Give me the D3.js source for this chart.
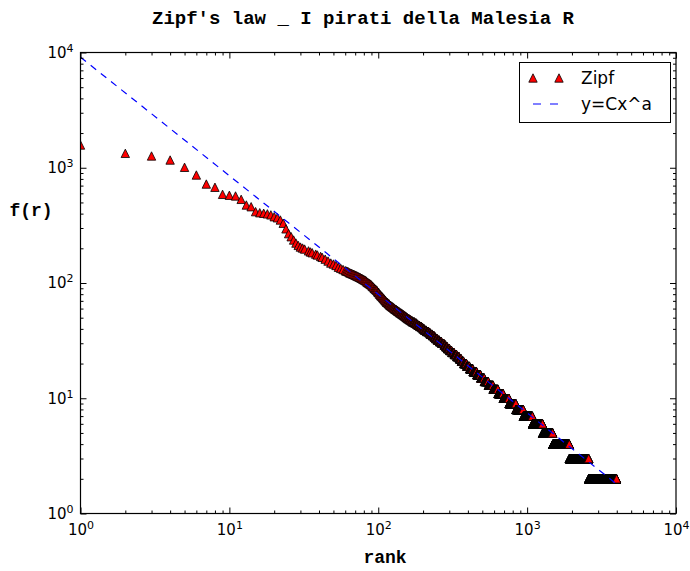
<!DOCTYPE html>
<html lang="en">
<meta charset="utf-8">
<head>
  <script src="https://d3js.org/d3.v7.min.js"></script>
  <style>
    body { margin: 0; background-color: #ffffff; }
  </style>
</head>
<body>
  <!-- div where the graph will take place -->
  <div id="my_dataviz"></div>

  <script>
    // ranks / frequencies (head of the curve)
    var headRanks = [1, 2, 3, 4, 5, 6, 7, 8, 9, 10, 11, 12, 13, 14, 15, 16, 17, 18, 19, 20, 21, 22,
      23, 24, 25, 26, 27, 28, 29, 30, 31, 32, 34, 35, 36, 38, 39, 41, 42, 44, 46, 48, 50, 52, 54, 56, 58,
      60, 61, 62, 63, 64, 65, 66, 67, 68, 69, 70, 71, 72, 73, 74, 75, 76, 77, 78, 79, 80, 81, 82, 83, 84,
      85, 86, 87, 88, 89, 90, 91, 92, 93, 94, 95, 96, 97, 98, 99, 100, 101, 102, 103, 104, 105, 106, 107,
      108, 109, 110, 111, 112, 113, 114, 115, 116, 117, 118, 119, 120, 121, 122, 123, 124, 125, 126, 127];
    var headFreqs = [1575, 1334, 1265, 1167, 1009, 865, 722, 677, 588, 577, 569, 532, 475, 459, 416, 407, 403, 398, 390, 376, 368, 352,
      330, 295, 268, 252, 236, 222, 212, 205, 201, 197, 190, 186, 183, 178, 175, 170, 167, 161, 155, 149, 146, 142, 137, 134, 131,
      128, 127, 126, 125, 123, 122, 121, 120, 119, 118, 117, 116, 115, 114, 113, 112, 111, 110, 109, 108, 107, 106, 105, 104, 102,
      101, 100, 99, 98, 97, 96, 94, 93, 92, 90, 89, 88, 87, 86, 84, 83, 82, 80, 79, 78, 77, 76, 75,
      74, 73, 72, 71, 70, 69, 68, 68, 67, 66, 66, 65, 64, 64, 63, 63, 62, 62, 61, 61];

    // rest of the distribution: every rank from first to last shares the same frequency
    var runFreqs = [60, 59, 58, 57, 56, 55, 54, 53, 52, 51, 50, 49, 48, 47, 46, 45, 44, 43, 42, 41,
      40, 39, 38, 37, 36, 35, 34, 33, 32, 31, 30, 29, 28, 27, 26, 25, 24, 23, 22, 21,
      20, 19, 18, 17, 16, 15, 14, 13, 12, 11, 10, 9, 8, 7, 6, 5, 4, 3, 2];
    var runFirst = [128, 130, 133, 135, 138, 140, 143, 146, 149, 152, 155, 158, 162, 166, 170, 176, 181, 185, 190, 196,
      200, 205, 211, 219, 224, 231, 238, 243, 250, 258, 267, 277, 284, 292, 302, 312, 324, 337, 350, 362,
      375, 393, 411, 433, 459, 488, 516, 549, 591, 637, 691, 756, 841, 943, 1086, 1271, 1486, 1921, 2591];
    var runLast = [129, 132, 134, 137, 139, 142, 145, 148, 151, 154, 157, 161, 165, 169, 175, 180, 184, 189, 195, 199,
      204, 210, 218, 223, 230, 237, 242, 249, 257, 266, 276, 283, 291, 301, 311, 323, 336, 349, 361, 374,
      392, 410, 432, 458, 487, 515, 548, 590, 636, 690, 755, 840, 942, 1085, 1270, 1485, 1920, 2590, 3990];

    // fitted power law y=Cx^a, read at its two ends
    var fitRanks = [1, 3990];
    var fitFreqs = [9100, 1.8];

    var majorTicks = [1, 10, 100, 1000, 10000];

    // set the dimensions and margins of the graph
    var margin = { top: 52.5, right: 14, bottom: 57.5, left: 80.5 },
      width = 690 - margin.left - margin.right,
      height = 571 - margin.top - margin.bottom;

    var root = d3.select("#my_dataviz")
      .append("svg")
      .attr("width", 690)
      .attr("height", 571);

    var svg = root.append("g")
      .attr("transform", "translate(" + margin.left + "," + margin.top + ")");

    var x = d3.scaleLog().domain([1, 10000]).range([0, width]);
    var y = d3.scaleLog().domain([1, 10000]).range([height, 0]);

    // build the point list
    var points = headRanks.map(function (r, i) { return { r: r, f: headFreqs[i] }; });
    runFreqs.forEach(function (f, i) {
      for (var r = runFirst[i]; r <= runLast[i]; r++) points.push({ r: r, f: f });
    });

    svg.append("clipPath").attr("id", "clip")
      .append("rect").attr("width", width).attr("height", height);

    var plot = svg.append("g").attr("clip-path", "url(#clip)");

    var tri = "M0,-4.2L4.2,4.2L-4.2,4.2Z";

    plot.selectAll(".pt")
      .data(points)
      .enter()
      .append("path")
      .attr("class", "pt")
      .attr("d", tri)
      .attr("transform", function (d) { return "translate(" + x(d.r) + "," + y(d.f) + ")"; })
      .attr("fill", "#ff0000")
      .attr("stroke", "#000000")
      .attr("stroke-width", 0.8);

    plot.append("path")
      .datum(fitRanks.map(function (r, i) { return [r, fitFreqs[i]]; }))
      .attr("d", d3.line().x(function (d) { return x(d[0]); }).y(function (d) { return y(d[1]); }))
      .attr("fill", "none")
      .attr("stroke", "#0000ff")
      .attr("stroke-width", 1.2)
      .attr("stroke-dasharray", "7,6");

    // minor ticks
    var minor = [];
    majorTicks.slice(0, 4).forEach(function (m) {
      for (var k = 2; k < 10; k++) minor.push(m * k);
    });

    function supLabels(sel) {
      sel.selectAll(".tick text").each(function (d) {
        var t = d3.select(this);
        t.text("10");
        t.append("tspan").attr("dy", "-0.55em").attr("font-size", 11).text(Math.round(Math.log10(d)));
      });
    }

    function styleAxis(g) {
      g.select(".domain").remove();
      g.selectAll(".tick line").attr("stroke", "#000");
      g.selectAll("text").attr("font-family", "DejaVu Sans").attr("font-size", 15).attr("fill", "#000");
    }

    // bottom & top
    svg.append("g").attr("transform", "translate(0," + height + ")")
      .call(d3.axisBottom(x).tickValues(majorTicks).tickSizeInner(-6).tickSizeOuter(0).tickPadding(11))
      .call(styleAxis).call(supLabels);
    svg.append("g").attr("transform", "translate(0," + height + ")")
      .call(d3.axisBottom(x).tickValues(minor).tickSizeInner(-3).tickSizeOuter(0).tickFormat(""))
      .call(styleAxis);
    svg.append("g")
      .call(d3.axisTop(x).tickValues(majorTicks).tickSizeInner(-6).tickSizeOuter(0).tickFormat(""))
      .call(styleAxis);
    svg.append("g")
      .call(d3.axisTop(x).tickValues(minor).tickSizeInner(-3).tickSizeOuter(0).tickFormat(""))
      .call(styleAxis);

    // left & right
    svg.append("g")
      .call(d3.axisLeft(y).tickValues(majorTicks).tickSizeInner(-6).tickSizeOuter(0).tickPadding(7))
      .call(styleAxis).call(supLabels);
    svg.append("g")
      .call(d3.axisLeft(y).tickValues(minor).tickSizeInner(-3).tickSizeOuter(0).tickFormat(""))
      .call(styleAxis);
    svg.append("g").attr("transform", "translate(" + width + ",0)")
      .call(d3.axisRight(y).tickValues(majorTicks).tickSizeInner(-6).tickSizeOuter(0).tickFormat(""))
      .call(styleAxis);
    svg.append("g").attr("transform", "translate(" + width + ",0)")
      .call(d3.axisRight(y).tickValues(minor).tickSizeInner(-3).tickSizeOuter(0).tickFormat(""))
      .call(styleAxis);

    // frame
    svg.append("rect")
      .attr("width", width).attr("height", height)
      .attr("fill", "none").attr("stroke", "#000").attr("stroke-width", 1.2);

    // title and labels
    root.append("text")
      .attr("x", 152).attr("y", 24)
      .attr("font-family", "Liberation Mono").attr("font-weight", "bold").attr("font-size", 19)
      .text("Zipf's law _ I pirati della Malesia R");

    root.append("text")
      .attr("x", 385).attr("y", 563).attr("text-anchor", "middle")
      .attr("font-family", "Liberation Mono").attr("font-weight", "bold").attr("font-size", 18)
      .text("rank");

    root.append("text")
      .attr("x", 31).attr("y", 216).attr("text-anchor", "middle")
      .attr("font-family", "Liberation Mono").attr("font-weight", "bold").attr("font-size", 18)
      .text("f(r)");

    // legend
    var legend = root.append("g");
    legend.append("rect")
      .attr("x", 519.5).attr("y", 62.5).attr("width", 151).attr("height", 60)
      .attr("fill", "#fff").attr("stroke", "#000").attr("stroke-width", 1);
    [533, 559].forEach(function (lx) {
      legend.append("path").attr("d", tri)
        .attr("transform", "translate(" + lx + ",78)")
        .attr("fill", "#ff0000").attr("stroke", "#000").attr("stroke-width", 0.8);
    });
    legend.append("line")
      .attr("x1", 533).attr("x2", 559).attr("y1", 104).attr("y2", 104)
      .attr("stroke", "#0000ff").attr("stroke-width", 1.2).attr("stroke-dasharray", "8,9");
    legend.append("text").attr("x", 581).attr("y", 84)
      .attr("font-family", "DejaVu Sans").attr("font-size", 17).text("Zipf");
    legend.append("text").attr("x", 581).attr("y", 110)
      .attr("font-family", "DejaVu Sans").attr("font-size", 17).text("y=Cx^a");
  </script>
</body>
</html>
